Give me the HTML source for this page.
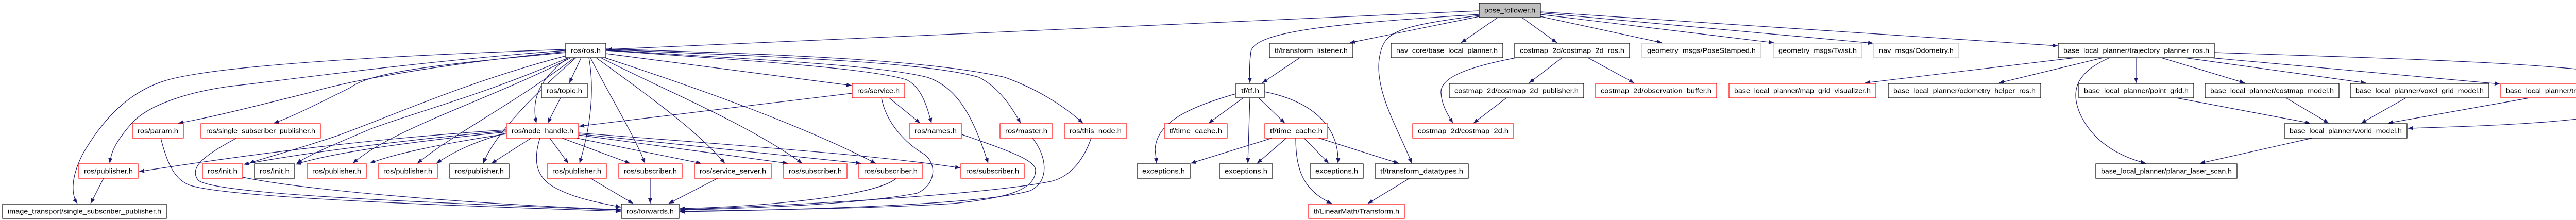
<!DOCTYPE html>
<html><head><meta charset="utf-8"><style>
html,body{margin:0;padding:0;background:#fff;}
svg{display:block;}
text{font-family:"Liberation Sans",sans-serif;font-size:12.5px;fill:#000;}
.e{fill:none;stroke:#191970;stroke-width:1.2;marker-end:url(#a);}
.k{fill:#fff;stroke:#000;stroke-width:1.2;}
.r{fill:#fff;stroke:#ff0000;stroke-width:1.2;}
.g{fill:#fff;stroke:#bfbfbf;stroke-width:1.2;}
.p{fill:#bfbfbf;stroke:#000;stroke-width:1.2;}
</style></head><body>
<svg width="5159" height="427" viewBox="0 0 5159 427" xmlns="http://www.w3.org/2000/svg">
<defs><marker id="a" markerWidth="10" markerHeight="8" refX="10" refY="4" orient="auto" markerUnits="userSpaceOnUse"><path d="M0,0 L10,4 L0,8z" fill="#191970"/></marker></defs>
<g>
<!-- pose_follower edges -->
<path class="e" d="M2871,21 L1178,96"/>
<path class="e" d="M2871,28 C2600,45 2435,60 2428,100 C2424,130 2426,150 2426,161"/>
<path class="e" d="M2871,32 L2620,83"/>
<path class="e" d="M2907,34 L2836,83"/>
<path class="e" d="M2954,34 L3022,83"/>
<path class="e" d="M2871,30 C2720,50 2690,60 2680,100 C2660,170 2720,260 2740,317"/>
<path class="e" d="M2990,32 L3226,83"/>
<path class="e" d="M2990,28 L3443,83"/>
<path class="e" d="M2990,25 L3636,84"/>
<path class="e" d="M2990,23 L3994,89"/>
<!-- costmap -->
<path class="e" d="M2943,112 C2850,130 2795,150 2797,180 C2798,205 2812,225 2820,239"/>
<path class="e" d="M3032,112 L2968,161"/>
<path class="e" d="M3082,112 L3172,161"/>
<path class="e" d="M2924,190 L2860,239"/>
<!-- tf -->
<path class="e" d="M2523,112 L2450,161"/>
<path class="e" d="M2399,182 C2300,210 2245,240 2242,290 L2245,317"/>
<path class="e" d="M2413,190 L2346,239"/>
<path class="e" d="M2426,190 L2422,317"/>
<path class="e" d="M2443,190 L2494,239"/>
<path class="e" d="M2454,178 C2540,195 2600,240 2597,317"/>
<path class="e" d="M2469,268 L2311,317"/>
<path class="e" d="M2497,268 L2440,317"/>
<path class="e" d="M2531,268 L2579,317"/>
<path class="e" d="M2515,268 C2515,330 2530,370 2585,395"/>
<path class="e" d="M2560,268 L2715,317"/>
<path class="e" d="M2736,346 L2655,395"/>
<!-- base_local_planner -->
<path class="e" d="M4028,112 L3620,161"/>
<path class="e" d="M4082,112 L3880,161"/>
<path class="e" d="M4095,112 C4030,140 4020,175 4035,215 C4055,265 4100,300 4165,317"/>
<path class="e" d="M4146,112 L4146,161"/>
<path class="e" d="M4195,112 L4357,161"/>
<path class="e" d="M4240,112 L4592,161"/>
<path class="e" d="M4290,112 L4852,163"/>
<path class="e" d="M4298,102 C4700,115 5050,125 5120,155 C5160,175 5150,200 5100,215 C5000,240 4800,245 4674,249"/>
<path class="e" d="M4224,190 L4484,239"/>
<path class="e" d="M4437,190 L4520,239"/>
<path class="e" d="M4670,190 L4583,239"/>
<path class="e" d="M4910,190 L4635,239"/>
<path class="e" d="M4488,268 L4270,317"/>
<!-- ros.h edges -->
<path class="e" d="M1098,96 C700,110 400,130 316,158 C250,180 200,230 160,300 C135,350 140,380 150,395"/>
<path class="e" d="M1098,98 C800,120 520,160 459,166 C380,175 290,200 255,240 C220,280 215,300 213,317"/>
<path class="e" d="M1098,100 C900,120 700,150 600,180 C480,210 400,230 346,239"/>
<path class="e" d="M1098,102 C850,125 720,140 680,170 C620,200 560,230 531,239"/>
<path class="e" d="M1100,108 C900,160 750,230 650,265 C560,295 500,310 484,317"/>
<path class="e" d="M1103,112 C950,180 800,220 720,250 C650,280 600,300 576,317"/>
<path class="e" d="M1108,112 C960,190 760,250 685,317"/>
<path class="e" d="M1115,112 C1000,200 880,260 810,317"/>
<path class="e" d="M1118,112 C1040,180 960,260 938,317"/>
<path class="e" d="M1103,112 C1050,150 1030,190 1041,239"/>
<path class="e" d="M1128,112 L1105,161"/>
<path class="e" d="M1088,190 L1063,239"/>
<path class="e" d="M1143,112 C1155,180 1145,250 1125,317"/>
<path class="e" d="M1146,112 C1180,180 1230,260 1252,317"/>
<path class="e" d="M1157,112 C1250,180 1350,250 1407,317"/>
<path class="e" d="M1166,112 C1300,180 1450,240 1557,317"/>
<path class="e" d="M1174,112 C1350,170 1550,240 1700,317"/>
<path class="e" d="M1176,104 L1653,166"/>
<path class="e" d="M1176,98 C1500,120 1700,135 1760,155 C1790,170 1800,210 1808,239"/>
<path class="e" d="M1176,97 C1450,115 1700,125 1800,150 C1860,170 1890,230 1918,317"/>
<path class="e" d="M1176,96 C1500,110 1800,120 1900,150 C1940,170 1965,210 1981,239"/>
<path class="e" d="M1176,95 C1500,105 1800,115 1950,150 C2020,175 2070,210 2102,239"/>
<!-- service.h -->
<path class="e" d="M1654,181 L1124,245"/>
<path class="e" d="M1726,190 L1786,239"/>
<path class="e" d="M1711,190 C1720,240 1760,280 1795,300 C1820,320 1815,360 1780,375 C1650,400 1400,405 1319,408"/>
<path class="e" d="M1867,261 C1950,290 2010,310 2010,330 C2010,370 1950,385 1850,395 C1700,405 1450,408 1319,410"/>
<path class="e" d="M2004,268 C2030,300 2040,350 2000,370 C1900,400 1500,408 1319,411"/>
<path class="e" d="M2118,268 C2100,320 2070,345 2040,352 C1900,380 1500,400 1319,407"/>
<path class="e" d="M1740,346 C1700,380 1500,400 1319,405"/>
<!-- node_handle -->
<path class="e" d="M1048,268 C1035,310 1040,340 1070,360 C1110,385 1170,395 1205,402"/>
<path class="e" d="M1031,268 L954,317"/>
<path class="e" d="M1067,268 L1103,317"/>
<path class="e" d="M1091,268 L1223,317"/>
<path class="e" d="M1119,268 L1361,317"/>
<path class="e" d="M1123,262 L1529,317"/>
<path class="e" d="M1123,260 L1671,317"/>
<path class="e" d="M1123,258 C1400,280 1700,300 1864,326"/>
<path class="e" d="M983,258 C920,275 880,295 847,317"/>
<path class="e" d="M983,260 C850,280 760,300 718,317"/>
<path class="e" d="M983,256 C800,275 650,295 574,319"/>
<path class="e" d="M983,254 C800,270 600,295 473,319"/>
<path class="e" d="M983,252 C700,270 450,305 270,333"/>
<!-- to forwards / image -->
<path class="e" d="M201,346 L176,395"/>
<path class="e" d="M312,268 C325,320 340,350 370,360 C450,385 900,400 1205,410"/>
<path class="e" d="M459,268 C420,290 360,320 385,350 C420,380 900,395 1205,408"/>
<path class="e" d="M471,344 C600,370 900,395 1205,407"/>
<path class="e" d="M1146,346 L1229,395"/>
<path class="e" d="M1262,346 L1262,395"/>
<path class="e" d="M1393,346 L1298,395"/>
</g>
<g>
<rect class="p" x="2871" y="6" width="119" height="28"/><text x="2930.5" y="24.5" text-anchor="middle" textLength="99" lengthAdjust="spacingAndGlyphs">pose_follower.h</text>
<rect class="k" x="1098" y="84" width="78" height="28"/><text x="1137" y="102.5" text-anchor="middle" textLength="58" lengthAdjust="spacingAndGlyphs">ros/ros.h</text>
<rect class="k" x="2464" y="84" width="162" height="28"/><text x="2545" y="102.5" text-anchor="middle" textLength="142" lengthAdjust="spacingAndGlyphs">tf/transform_listener.h</text>
<rect class="k" x="2700" y="84" width="217" height="28"/><text x="2808.5" y="102.5" text-anchor="middle" textLength="197" lengthAdjust="spacingAndGlyphs">nav_core/base_local_planner.h</text>
<rect class="k" x="2940" y="84" width="223" height="28"/><text x="3051.5" y="102.5" text-anchor="middle" textLength="203" lengthAdjust="spacingAndGlyphs">costmap_2d/costmap_2d_ros.h</text>
<rect class="g" x="3187" y="84" width="231" height="28"/><text x="3302.5" y="102.5" text-anchor="middle" textLength="211" lengthAdjust="spacingAndGlyphs">geometry_msgs/PoseStamped.h</text>
<rect class="g" x="3442" y="84" width="172" height="28"/><text x="3528" y="102.5" text-anchor="middle" textLength="152" lengthAdjust="spacingAndGlyphs">geometry_msgs/Twist.h</text>
<rect class="g" x="3637" y="84" width="165" height="28"/><text x="3719.5" y="102.5" text-anchor="middle" textLength="145" lengthAdjust="spacingAndGlyphs">nav_msgs/Odometry.h</text>
<rect class="k" x="3995" y="84" width="303" height="28"/><text x="4146.5" y="102.5" text-anchor="middle" textLength="283" lengthAdjust="spacingAndGlyphs">base_local_planner/trajectory_planner_ros.h</text>

<rect class="k" x="1051" y="162" width="89" height="28"/><text x="1095.5" y="180.5" text-anchor="middle" textLength="69" lengthAdjust="spacingAndGlyphs">ros/topic.h</text>
<rect class="r" x="1654" y="162" width="102" height="28"/><text x="1705" y="180.5" text-anchor="middle" textLength="82" lengthAdjust="spacingAndGlyphs">ros/service.h</text>
<rect class="k" x="2399" y="162" width="55" height="28"/><text x="2426.5" y="180.5" text-anchor="middle" textLength="35" lengthAdjust="spacingAndGlyphs">tf/tf.h</text>
<rect class="k" x="2813" y="162" width="261" height="28"/><text x="2943.5" y="180.5" text-anchor="middle" textLength="241" lengthAdjust="spacingAndGlyphs">costmap_2d/costmap_2d_publisher.h</text>
<rect class="r" x="3097" y="162" width="235" height="28"/><text x="3214.5" y="180.5" text-anchor="middle" textLength="215" lengthAdjust="spacingAndGlyphs">costmap_2d/observation_buffer.h</text>
<rect class="r" x="3356" y="162" width="285" height="28"/><text x="3498.5" y="180.5" text-anchor="middle" textLength="265" lengthAdjust="spacingAndGlyphs">base_local_planner/map_grid_visualizer.h</text>
<rect class="k" x="3665" y="162" width="296" height="28"/><text x="3813" y="180.5" text-anchor="middle" textLength="276" lengthAdjust="spacingAndGlyphs">base_local_planner/odometry_helper_ros.h</text>
<rect class="k" x="4035" y="162" width="223" height="28"/><text x="4146.5" y="180.5" text-anchor="middle" textLength="203" lengthAdjust="spacingAndGlyphs">base_local_planner/point_grid.h</text>
<rect class="k" x="4280" y="162" width="260" height="28"/><text x="4410" y="180.5" text-anchor="middle" textLength="240" lengthAdjust="spacingAndGlyphs">base_local_planner/costmap_model.h</text>
<rect class="k" x="4562" y="162" width="269" height="28"/><text x="4696.5" y="180.5" text-anchor="middle" textLength="249" lengthAdjust="spacingAndGlyphs">base_local_planner/voxel_grid_model.h</text>
<rect class="r" x="4854" y="162" width="272" height="28"/><text x="4990" y="180.5" text-anchor="middle" textLength="252" lengthAdjust="spacingAndGlyphs">base_local_planner/trajectory_planner.h</text>

<rect class="r" x="257" y="240" width="99" height="28"/><text x="306.5" y="258.5" text-anchor="middle" textLength="79" lengthAdjust="spacingAndGlyphs">ros/param.h</text>
<rect class="r" x="390" y="240" width="232" height="28"/><text x="506" y="258.5" text-anchor="middle" textLength="212" lengthAdjust="spacingAndGlyphs">ros/single_subscriber_publisher.h</text>
<rect class="r" x="983" y="240" width="140" height="28"/><text x="1053" y="258.5" text-anchor="middle" textLength="120" lengthAdjust="spacingAndGlyphs">ros/node_handle.h</text>
<rect class="r" x="1765" y="240" width="102" height="28"/><text x="1816" y="258.5" text-anchor="middle" textLength="82" lengthAdjust="spacingAndGlyphs">ros/names.h</text>
<rect class="r" x="1941" y="240" width="102" height="28"/><text x="1992" y="258.5" text-anchor="middle" textLength="82" lengthAdjust="spacingAndGlyphs">ros/master.h</text>
<rect class="r" x="2066" y="240" width="121" height="28"/><text x="2126.5" y="258.5" text-anchor="middle" textLength="101" lengthAdjust="spacingAndGlyphs">ros/this_node.h</text>
<rect class="r" x="2260" y="240" width="122" height="28"/><text x="2321" y="258.5" text-anchor="middle" textLength="102" lengthAdjust="spacingAndGlyphs">tf/time_cache.h</text>
<rect class="r" x="2455" y="240" width="122" height="28"/><text x="2516" y="258.5" text-anchor="middle" textLength="102" lengthAdjust="spacingAndGlyphs">tf/time_cache.h</text>
<rect class="r" x="2742" y="240" width="196" height="28"/><text x="2840" y="258.5" text-anchor="middle" textLength="176" lengthAdjust="spacingAndGlyphs">costmap_2d/costmap_2d.h</text>
<rect class="k" x="4434" y="240" width="238" height="28"/><text x="4553" y="258.5" text-anchor="middle" textLength="218" lengthAdjust="spacingAndGlyphs">base_local_planner/world_model.h</text>

<rect class="r" x="153" y="318" width="115" height="28"/><text x="210.5" y="336.5" text-anchor="middle" textLength="95" lengthAdjust="spacingAndGlyphs">ros/publisher.h</text>
<rect class="r" x="393" y="318" width="78" height="28"/><text x="432" y="336.5" text-anchor="middle" textLength="58" lengthAdjust="spacingAndGlyphs">ros/init.h</text>
<rect class="k" x="494" y="318" width="78" height="28"/><text x="533" y="336.5" text-anchor="middle" textLength="58" lengthAdjust="spacingAndGlyphs">ros/init.h</text>
<rect class="r" x="596" y="318" width="115" height="28"/><text x="653.5" y="336.5" text-anchor="middle" textLength="95" lengthAdjust="spacingAndGlyphs">ros/publisher.h</text>
<rect class="r" x="734" y="318" width="115" height="28"/><text x="791.5" y="336.5" text-anchor="middle" textLength="95" lengthAdjust="spacingAndGlyphs">ros/publisher.h</text>
<rect class="k" x="873" y="318" width="115" height="28"/><text x="930.5" y="336.5" text-anchor="middle" textLength="95" lengthAdjust="spacingAndGlyphs">ros/publisher.h</text>
<rect class="r" x="1062" y="318" width="115" height="28"/><text x="1119.5" y="336.5" text-anchor="middle" textLength="95" lengthAdjust="spacingAndGlyphs">ros/publisher.h</text>
<rect class="r" x="1201" y="318" width="123" height="28"/><text x="1262.5" y="336.5" text-anchor="middle" textLength="103" lengthAdjust="spacingAndGlyphs">ros/subscriber.h</text>
<rect class="r" x="1348" y="318" width="149" height="28"/><text x="1422.5" y="336.5" text-anchor="middle" textLength="129" lengthAdjust="spacingAndGlyphs">ros/service_server.h</text>
<rect class="r" x="1521" y="318" width="123" height="28"/><text x="1582.5" y="336.5" text-anchor="middle" textLength="103" lengthAdjust="spacingAndGlyphs">ros/subscriber.h</text>
<rect class="r" x="1667" y="318" width="124" height="28"/><text x="1729" y="336.5" text-anchor="middle" textLength="104" lengthAdjust="spacingAndGlyphs">ros/subscriber.h</text>
<rect class="r" x="1865" y="318" width="123" height="28"/><text x="1926.5" y="336.5" text-anchor="middle" textLength="103" lengthAdjust="spacingAndGlyphs">ros/subscriber.h</text>
<rect class="k" x="2207" y="318" width="103" height="28"/><text x="2258.5" y="336.5" text-anchor="middle" textLength="83" lengthAdjust="spacingAndGlyphs">exceptions.h</text>
<rect class="k" x="2367" y="318" width="103" height="28"/><text x="2418.5" y="336.5" text-anchor="middle" textLength="83" lengthAdjust="spacingAndGlyphs">exceptions.h</text>
<rect class="k" x="2543" y="318" width="103" height="28"/><text x="2594.5" y="336.5" text-anchor="middle" textLength="83" lengthAdjust="spacingAndGlyphs">exceptions.h</text>
<rect class="k" x="2669" y="318" width="181" height="28"/><text x="2759.5" y="336.5" text-anchor="middle" textLength="161" lengthAdjust="spacingAndGlyphs">tf/transform_datatypes.h</text>
<rect class="k" x="4068" y="318" width="274" height="28"/><text x="4205" y="336.5" text-anchor="middle" textLength="254" lengthAdjust="spacingAndGlyphs">base_local_planner/planar_laser_scan.h</text>

<rect class="k" x="5" y="396" width="318" height="28"/><text x="164" y="414.5" text-anchor="middle" textLength="298" lengthAdjust="spacingAndGlyphs">image_transport/single_subscriber_publisher.h</text>
<rect class="k" x="1206" y="396" width="112" height="28"/><text x="1262" y="414.5" text-anchor="middle" textLength="92" lengthAdjust="spacingAndGlyphs">ros/forwards.h</text>
<rect class="r" x="2540" y="396" width="186" height="28"/><text x="2633" y="414.5" text-anchor="middle" textLength="166" lengthAdjust="spacingAndGlyphs">tf/LinearMath/Transform.h</text>
</g>
</svg>
</body></html>
